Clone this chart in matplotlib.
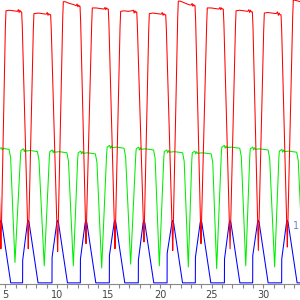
import matplotlib
matplotlib.use('Agg')
import matplotlib.pyplot as plt
import matplotlib.transforms as mtransforms
from matplotlib.ticker import MultipleLocator

# red trace (vertices)
red_t = [3.92, 3.98, 4.52, 4.56, 4.60, 4.99, 5.05,
         5.40, 5.80, 6.15, 6.25, 6.32, 6.40, 6.48, 6.57,
         6.63, 7.17, 7.21, 7.25, 7.70, 7.76,
         8.20, 8.60, 8.95, 9.05, 9.12, 9.20, 9.28, 9.38,
         9.44, 10.02, 10.06, 10.10, 10.55, 10.61,
         10.80, 11.20, 11.60, 11.85, 11.95, 12.02, 12.10, 12.16, 12.23,
         12.29, 12.77, 12.81, 12.85, 13.36, 13.42,
         13.80, 14.20, 14.55, 14.65, 14.72, 14.80, 14.88, 14.97,
         15.03, 15.58, 15.62, 15.66, 16.11, 16.17,
         16.50, 16.90, 17.25, 17.40, 17.48, 17.56, 17.64, 17.73,
         17.79, 18.39, 18.43, 18.47, 18.89, 18.95,
         19.30, 19.70, 20.10, 20.20, 20.28, 20.36, 20.45, 20.54,
         20.60, 21.18, 21.22, 21.26, 21.70, 21.76,
         21.95, 22.35, 22.75, 23.00, 23.10, 23.17, 23.25, 23.31, 23.38,
         23.44, 23.92, 23.96, 24.00, 24.51, 24.57,
         24.95, 25.35, 25.70, 25.80, 25.88, 25.96, 26.04, 26.12,
         26.18, 26.74, 26.78, 26.82, 27.30, 27.36,
         27.70, 28.10, 28.50, 28.60, 28.68, 28.76, 28.85, 28.94,
         29.00, 29.48, 29.52, 29.56, 30.04, 30.10,
         30.45, 30.85, 31.25, 31.38, 31.46, 31.54, 31.62, 31.72,
         31.78, 32.29, 32.33, 32.37, 32.85, 32.91,
         33.20, 33.60]
red_v = [4.80, 4.55, 0.85, 0.60, 0.90, 4.50, 4.79,
         4.80, 4.79, 4.78, 4.81, 4.76, 4.80, 4.77, 4.77,
         4.52, 0.85, 0.60, 0.90, 4.45, 4.74,
         4.75, 4.74, 4.73, 4.76, 4.71, 4.74, 4.72, 4.72,
         4.47, 0.80, 0.55, 0.85, 4.65, 4.95,
         4.95, 4.92, 4.90, 4.88, 4.91, 4.86, 4.89, 4.87, 4.87,
         4.60, 0.95, 0.69, 1.00, 4.55, 4.84,
         4.84, 4.83, 4.82, 4.85, 4.81, 4.84, 4.82, 4.82,
         4.57, 0.85, 0.60, 0.90, 4.50, 4.78,
         4.79, 4.78, 4.79, 4.80, 4.75, 4.79, 4.76, 4.77,
         4.52, 0.97, 0.72, 1.02, 4.45, 4.74,
         4.75, 4.74, 4.73, 4.76, 4.71, 4.74, 4.72, 4.72,
         4.47, 0.82, 0.57, 0.87, 4.66, 4.96,
         4.96, 4.93, 4.90, 4.89, 4.92, 4.87, 4.90, 4.88, 4.88,
         4.62, 0.94, 0.69, 0.99, 4.55, 4.84,
         4.84, 4.83, 4.82, 4.85, 4.81, 4.84, 4.82, 4.82,
         4.57, 0.85, 0.60, 0.90, 4.50, 4.79,
         4.80, 4.79, 4.78, 4.81, 4.76, 4.80, 4.77, 4.77,
         4.52, 0.82, 0.57, 0.87, 4.45, 4.75,
         4.76, 4.75, 4.74, 4.77, 4.71, 4.75, 4.72, 4.72,
         4.47, 0.88, 0.63, 0.93, 4.68, 4.98,
         4.97, 4.95]

# green trace
green_t = [4.40, 4.60, 4.70, 4.80, 5.00, 5.35, 5.50, 5.92,
           6.45, 6.50, 6.75, 6.83, 6.92, 7.00, 7.40, 7.80, 8.10, 8.25, 8.76,
           9.25, 9.30, 9.55, 9.63, 9.72, 9.80, 10.20, 10.60, 10.96, 11.11, 11.58,
           12.00, 12.05, 12.30, 12.38, 12.47, 12.55, 12.95, 13.35, 13.72, 13.87, 14.33,
           14.81, 14.86, 15.10, 15.18, 15.27, 15.35, 15.75, 16.15, 16.50, 16.65, 17.14,
           17.63, 17.68, 17.92, 18.00, 18.09, 18.17, 18.57, 18.97, 19.36, 19.51, 19.92,
           20.35, 20.40, 20.65, 20.73, 20.82, 20.90, 21.35, 21.80, 22.18, 22.33, 22.73,
           23.07, 23.12, 23.37, 23.45, 23.54, 23.62, 24.10, 24.55, 24.95, 25.10, 25.48,
           25.93, 25.98, 26.22, 26.30, 26.39, 26.47, 26.90, 27.30, 27.72, 27.87, 28.30,
           28.69, 28.74, 28.98, 29.06, 29.15, 29.23, 29.65, 30.05, 30.47, 30.62, 31.10,
           31.51, 31.56, 31.80, 31.88, 31.97, 32.05, 32.45, 32.85, 33.24, 33.39, 33.86]
green_v = [2.36, 2.38, 2.34, 2.37, 2.36, 2.35, 2.20, 0.36,
           2.21, 2.33, 2.36, 2.31, 2.35, 2.32, 2.33, 2.32, 2.31, 2.16, 0.30,
           2.19, 2.31, 2.34, 2.29, 2.33, 2.30, 2.31, 2.30, 2.29, 2.14, 0.30,
           2.17, 2.29, 2.32, 2.27, 2.31, 2.28, 2.29, 2.28, 2.27, 2.12, 0.26,
           2.27, 2.39, 2.42, 2.37, 2.41, 2.38, 2.39, 2.38, 2.37, 2.22, 0.33,
           2.24, 2.36, 2.39, 2.34, 2.38, 2.35, 2.36, 2.35, 2.34, 2.19, 0.30,
           2.19, 2.31, 2.34, 2.29, 2.33, 2.30, 2.31, 2.30, 2.29, 2.14, 0.28,
           2.17, 2.29, 2.32, 2.27, 2.31, 2.28, 2.29, 2.28, 2.27, 2.12, 0.25,
           2.27, 2.39, 2.42, 2.37, 2.41, 2.38, 2.39, 2.38, 2.37, 2.22, 0.30,
           2.24, 2.36, 2.39, 2.34, 2.38, 2.35, 2.36, 2.35, 2.34, 2.19, 0.28,
           2.20, 2.32, 2.35, 2.30, 2.34, 2.31, 2.32, 2.31, 2.30, 2.15, 0.30]

# blue trace
blue_t = [4.01, 4.48, 4.56, 4.64, 5.51,
          6.66, 6.67, 7.13, 7.21, 7.29, 8.16,
          9.51, 9.52, 9.98, 10.06, 10.14, 11.01,
          12.26, 12.27, 12.73, 12.81, 12.89, 13.76,
          15.07, 15.08, 15.54, 15.62, 15.70, 16.57,
          17.88, 17.89, 18.35, 18.43, 18.51, 19.38,
          20.67, 20.68, 21.14, 21.22, 21.30, 22.17,
          23.41, 23.42, 23.88, 23.96, 24.04, 24.91,
          26.23, 26.24, 26.70, 26.78, 26.86, 27.73,
          28.97, 28.98, 29.44, 29.52, 29.60, 30.47,
          31.78, 31.79, 32.25, 32.33, 32.41, 33.28, 33.60]
blue_v = [0.45, 1.06, 1.10, 1.06, 0.0,
          0.0, 0.40, 1.06, 1.10, 1.06, 0.0,
          0.0, 0.45, 1.06, 1.10, 1.06, 0.0,
          0.0, 0.42, 1.06, 1.10, 1.06, 0.0,
          0.0, 0.48, 1.06, 1.10, 1.06, 0.0,
          0.0, 0.40, 1.06, 1.10, 1.06, 0.0,
          0.0, 0.52, 1.06, 1.10, 1.06, 0.0,
          0.0, 0.45, 1.06, 1.10, 1.06, 0.0,
          0.0, 0.42, 1.06, 1.10, 1.06, 0.0,
          0.0, 0.48, 1.06, 1.10, 1.06, 0.0,
          0.0, 0.42, 1.06, 1.10, 1.06, 0.0, 0.0]

fig = plt.figure(figsize=(3, 3), dpi=100)
ax = fig.add_axes([0, 16 / 300, 1, 284 / 300])

ax.plot(blue_t, blue_v, color='#0000ff', lw=0.75)
ax.plot(green_t, green_v, color='#00ee00', lw=0.75)
ax.plot(red_t, red_v, color='#ff0000', lw=0.75)

ax.set_xlim(4.47, 33.56)
ax.set_ylim(-0.02, 4.98)

for side in ['left', 'right', 'top']:
    ax.spines[side].set_visible(False)
ax.spines['bottom'].set_color('#888888')
ax.spines['bottom'].set_linewidth(0.8)
ax.yaxis.set_visible(False)

ax.xaxis.set_major_locator(MultipleLocator(5))
ax.xaxis.set_minor_locator(MultipleLocator(1))
ax.tick_params(axis='x', which='both', length=3, width=0.8, color='#888888',
               labelsize=7, labelcolor='#444444', pad=1.5)

# right axis label at value 1, squeezed against the edge
trans = mtransforms.blended_transform_factory(ax.transAxes, ax.transData)
ax.text(0.978, 1.0, '1', transform=trans, color='#6a86c8', fontsize=7,
        ha='left', va='center')

fig.savefig('out.png', dpi=100)
